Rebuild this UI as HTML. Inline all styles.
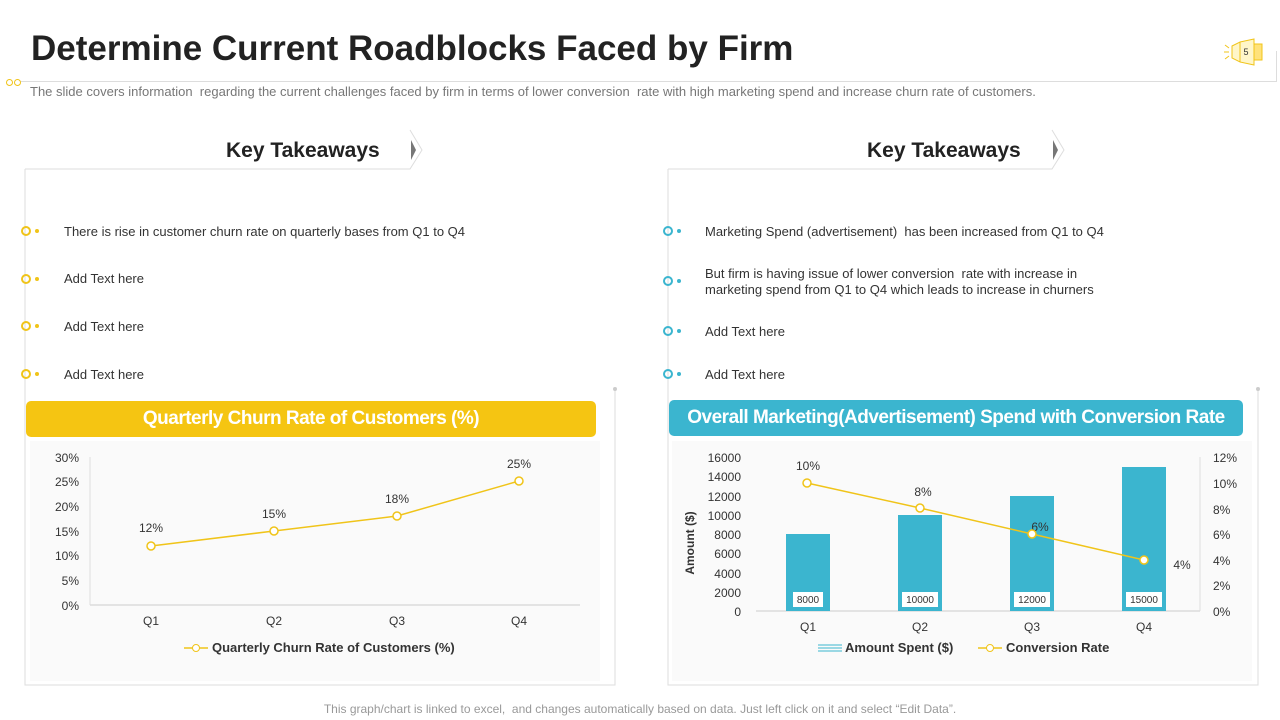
<!DOCTYPE html>
<html><head><meta charset="utf-8"><style>
body{margin:0;width:1280px;height:720px;background:#fff;font-family:"Liberation Sans",sans-serif;position:relative;overflow:hidden;color:#333}
.a{position:absolute}
.t{font-size:13px;color:#333}
</style></head><body>
<div class="a" style="left:31px;top:29px;font-size:35px;font-weight:bold;color:#222;letter-spacing:0px">Determine Current Roadblocks Faced by Firm</div>
<div class="a" style="left:20px;top:81px;width:1257px;height:1px;background:#ddd"></div>
<div class="a" style="left:1276px;top:51px;width:1px;height:31px;background:#ddd"></div>
<div class="a" style="left:6px;top:79px;width:5px;height:5px;border:1px solid #f0c419;border-radius:50%"></div>
<div class="a" style="left:14px;top:79px;width:5px;height:5px;border:1px solid #f0c419;border-radius:50%"></div>
<svg class="a" style="left:1222px;top:36px" width="50" height="32"><path d="M10 10 L18 6 L18 26 L10 22 Z M18 6 L32 3 L32 29 L18 26Z" fill="#fff6c8" stroke="#f0c419"/><rect x="32" y="8" width="8" height="16" fill="#ffe27a" stroke="#f0c419"/><text x="24" y="19" font-size="9" text-anchor="middle" fill="#333">5</text><path d="M2 16h5M3 9l4 3M3 23l4-3" stroke="#f0c419"/></svg>
<div class="a" style="left:30px;top:84px;font-size:13px;color:#777">The slide covers information &nbsp;regarding the current challenges faced by firm in terms of lower conversion &nbsp;rate with high marketing spend and increase churn rate of customers.</div>

<svg class="a" style="left:0;top:125px" width="1280" height="570">
<path d="M25 44 H410 L422 25 L410 5" fill="none" stroke="#ddd"/>
<path d="M411 15 L416 25 L411 35Z" fill="#777"/>
<path d="M25 44 V560 H615 V265" fill="none" stroke="#ddd"/>
<path d="M668 44 H1052 L1064 25 L1052 5" fill="none" stroke="#ddd"/>
<path d="M1053 15 L1058 25 L1053 35Z" fill="#777"/>
<path d="M668 44 V560 H1258 V265" fill="none" stroke="#ddd"/>
<circle cx="615" cy="264" r="2" fill="#ccc"/><circle cx="1258" cy="264" r="2" fill="#ccc"/>
</svg>
<div class="a" style="left:226px;top:139px;font-size:21px;font-weight:bold;color:#222">Key Takeaways</div>
<div class="a" style="left:867px;top:139px;font-size:21px;font-weight:bold;color:#222">Key Takeaways</div>

<svg class="a" style="left:0;top:0" width="1280" height="400">
<g fill="none" stroke="#f0c419" stroke-width="2"><circle cx="26" cy="231" r="4"/><circle cx="26" cy="279" r="4"/><circle cx="26" cy="326" r="4"/><circle cx="26" cy="374" r="4"/></g>
<g fill="#f0c419"><circle cx="37" cy="231" r="2"/><circle cx="37" cy="279" r="2"/><circle cx="37" cy="326" r="2"/><circle cx="37" cy="374" r="2"/></g>
<g fill="none" stroke="#3bb5cf" stroke-width="2"><circle cx="668" cy="231" r="4"/><circle cx="668" cy="281" r="4"/><circle cx="668" cy="331" r="4"/><circle cx="668" cy="374" r="4"/></g>
<g fill="#3bb5cf"><circle cx="679" cy="231" r="2"/><circle cx="679" cy="281" r="2"/><circle cx="679" cy="331" r="2"/><circle cx="679" cy="374" r="2"/></g>
</svg>
<div class="a t" style="left:64px;top:224px">There is rise in customer churn rate on quarterly bases from Q1 to Q4</div>
<div class="a t" style="left:64px;top:271px">Add Text here</div>
<div class="a t" style="left:64px;top:319px">Add Text here</div>
<div class="a t" style="left:64px;top:367px">Add Text here</div>
<div class="a t" style="left:705px;top:224px">Marketing Spend (advertisement) &nbsp;has been increased from Q1 to Q4</div>
<div class="a t" style="left:705px;top:266px;line-height:16px">But firm is having issue of lower conversion &nbsp;rate with increase in<br>marketing spend from Q1 to Q4 which leads to increase in churners</div>
<div class="a t" style="left:705px;top:324px">Add Text here</div>
<div class="a t" style="left:705px;top:367px">Add Text here</div>

<div class="a" style="left:26px;top:401px;width:570px;height:36px;background:#f5c512;border-radius:5px;color:#fff;font-weight:bold;font-size:19px;text-align:center;line-height:36px;letter-spacing:-0.5px">Quarterly Churn Rate of Customers (%)</div>
<div class="a" style="left:669px;top:400px;width:574px;height:36px;background:#3bb5cf;border-radius:5px;color:#fff;font-weight:bold;font-size:19px;text-align:center;line-height:36px;letter-spacing:-0.5px">Overall Marketing(Advertisement) Spend with Conversion Rate</div>

<svg class="a" style="left:0;top:0" width="1280" height="720" font-family="Liberation Sans, sans-serif" font-size="12" fill="#333">
<rect x="30" y="441" width="570" height="240" fill="#fafafa"/>
<rect x="672" y="441" width="580" height="240" fill="#fafafa"/>
<line x1="90" y1="605" x2="580" y2="605" stroke="#ccc"/>
<line x1="90" y1="457" x2="90" y2="605" stroke="#ddd"/>
<g text-anchor="end"><text x="79" y="610">0%</text><text x="79" y="585">5%</text><text x="79" y="560">10%</text><text x="79" y="536">15%</text><text x="79" y="511">20%</text><text x="79" y="486">25%</text><text x="79" y="462">30%</text></g>
<g text-anchor="middle"><text x="151" y="625">Q1</text><text x="274" y="625">Q2</text><text x="397" y="625">Q3</text><text x="519" y="625">Q4</text>
<text x="151" y="532">12%</text><text x="274" y="518">15%</text><text x="397" y="503">18%</text><text x="519" y="468">25%</text></g>
<polyline points="151,546 274,531 397,516 519,481" fill="none" stroke="#f0c419" stroke-width="1.5"/>
<g fill="#fff" stroke="#f0c419" stroke-width="1.5"><circle cx="151" cy="546" r="4"/><circle cx="274" cy="531" r="4"/><circle cx="397" cy="516" r="4"/><circle cx="519" cy="481" r="4"/></g>
<line x1="184" y1="648" x2="208" y2="648" stroke="#f0c419" stroke-width="1.5"/><circle cx="196" cy="648" r="3.5" fill="#fff" stroke="#f0c419"/>
<text x="212" y="652" font-weight="bold" font-size="13">Quarterly Churn Rate of Customers (%)</text>

<line x1="756" y1="611" x2="1200" y2="611" stroke="#ccc"/>
<line x1="1200" y1="457" x2="1200" y2="611" stroke="#ddd"/>
<g text-anchor="end"><text x="741" y="616">0</text><text x="741" y="597">2000</text><text x="741" y="578">4000</text><text x="741" y="558">6000</text><text x="741" y="539">8000</text><text x="741" y="520">10000</text><text x="741" y="501">12000</text><text x="741" y="481">14000</text><text x="741" y="462">16000</text></g>
<g><text x="1213" y="616">0%</text><text x="1213" y="590">2%</text><text x="1213" y="565">4%</text><text x="1213" y="539">6%</text><text x="1213" y="514">8%</text><text x="1213" y="488">10%</text><text x="1213" y="462">12%</text></g>
<text transform="translate(694,543) rotate(-90)" text-anchor="middle" font-weight="bold" font-size="12">Amount ($)</text>
<g fill="#3bb5cf"><rect x="786" y="534" width="44" height="77"/><rect x="898" y="515" width="44" height="96"/><rect x="1010" y="496" width="44" height="115"/><rect x="1122" y="467" width="44" height="144"/></g>
<g fill="#fff"><rect x="793" y="592" width="30" height="15"/><rect x="902" y="592" width="36" height="15"/><rect x="1014" y="592" width="36" height="15"/><rect x="1126" y="592" width="36" height="15"/></g>
<g text-anchor="middle" font-size="10"><text x="808" y="603">8000</text><text x="920" y="603">10000</text><text x="1032" y="603">12000</text><text x="1144" y="603">15000</text></g>
<g text-anchor="middle"><text x="808" y="631">Q1</text><text x="920" y="631">Q2</text><text x="1032" y="631">Q3</text><text x="1144" y="631">Q4</text>
<text x="808" y="470">10%</text><text x="923" y="496">8%</text><text x="1040" y="531">6%</text><text x="1182" y="569">4%</text></g>
<polyline points="807,483 920,508 1032,534 1144,560" fill="none" stroke="#f0c419" stroke-width="1.5"/>
<g fill="#fff" stroke="#f0c419" stroke-width="1.5"><circle cx="807" cy="483" r="4"/><circle cx="920" cy="508" r="4"/><circle cx="1032" cy="534" r="4"/><circle cx="1144" cy="560" r="4"/></g>
<g stroke="#3bb5cf"><line x1="818" y1="645" x2="842" y2="645"/><line x1="818" y1="648" x2="842" y2="648"/><line x1="818" y1="651" x2="842" y2="651"/></g>
<text x="845" y="652" font-weight="bold" font-size="13">Amount Spent ($)</text>
<line x1="978" y1="648" x2="1002" y2="648" stroke="#f0c419" stroke-width="1.5"/><circle cx="990" cy="648" r="3.5" fill="#fff" stroke="#f0c419"/>
<text x="1006" y="652" font-weight="bold" font-size="13">Conversion Rate</text>
</svg>
<div class="a" style="left:0;width:1280px;top:702px;text-align:center;font-size:12px;color:#999">This graph/chart is linked to excel, &nbsp;and changes automatically based on data. Just left click on it and select “Edit Data”.</div>
</body></html>
